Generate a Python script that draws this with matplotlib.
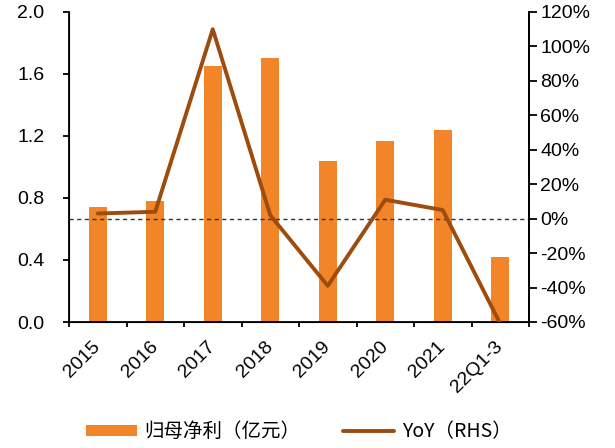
import numpy as np
import matplotlib
matplotlib.use('Agg')
import matplotlib.pyplot as plt
from matplotlib.ticker import FuncFormatter

plt.rcParams['font.family'] = ['Liberation Sans', 'DejaVu Sans']

# data
categories = ['2015', '2016', '2017', '2018', '2019', '2020', '2021', '22Q1-3']
profit = [0.74, 0.78, 1.65, 1.70, 1.04, 1.17, 1.24, 0.42]        # 归母净利 (亿元)
yoy = [3, 4, 110, 2, -39, 11, 5, -61]                              # YoY %

bar_color = '#F28527'
line_color = '#9E4B0E'

fig = plt.figure(figsize=(6.15, 4.48), dpi=100)
# plot area: x 69..529 px, y 12..322 px
ax = fig.add_axes([69 / 615, 1 - 322 / 448, 460 / 615, 310 / 448])
x = np.arange(len(categories))

bars = ax.bar(x, profit, width=0.31, color=bar_color, zorder=2)
ax.set_ylim(0, 2.0)
ax.set_yticks([0, 0.4, 0.8, 1.2, 1.6, 2.0])
ax.yaxis.set_major_formatter(FuncFormatter(lambda v, p: f'{v:.1f}'))
ax.set_xlim(-0.5, len(categories) - 0.5)
ax.set_xticks(np.arange(len(categories) + 1) - 0.5)
ax.set_xticklabels([])
ax.set_xticks(x, minor=True)
ax.set_xticklabels(categories, minor=True, rotation=45, ha='right', va='center',
                   rotation_mode='anchor', fontsize=14)
ax.tick_params(axis='x', which='minor', length=0, pad=16)
ax.tick_params(axis='x', which='major', direction='out', length=3.5, width=1.3)
ax.tick_params(axis='y', direction='out', length=4.3, width=1.3, labelsize=14, pad=13.5)
ax.spines['top'].set_visible(False)
for s in ['left', 'bottom', 'right']:
    ax.spines[s].set_linewidth(1.3)

ax2 = ax.twinx()
ax2.set_ylim(-60, 120)
ax2.set_yticks(np.arange(-60, 121, 20))
ax2.yaxis.set_major_formatter(FuncFormatter(lambda v, p: f'{v:.0f}%'))
ax2.tick_params(axis='y', direction='out', length=5.5, width=1.3, labelsize=14, pad=2.5)
ax2.spines['top'].set_visible(False)
ax2.spines['right'].set_linewidth(1.3)
ax2.axhline(0, color='#333333', linestyle='--', linewidth=1.0, dashes=(3, 2.5), zorder=1)
line, = ax2.plot(x, yoy, color=line_color, linewidth=2.8, zorder=3,
                 solid_capstyle='round')

fig.legend([bars, line], ['归母净利（亿元）', 'YoY（RHS）'], loc='center', ncol=2,
           bbox_to_anchor=(0.486, 0.036), frameon=False, columnspacing=2.2,
           handlelength=2.6, handleheight=0.55, handletextpad=0.4,
           prop={'family': ['Noto Sans CJK SC', 'DejaVu Sans'], 'size': 14})

fig.savefig('out.png', dpi=100)
